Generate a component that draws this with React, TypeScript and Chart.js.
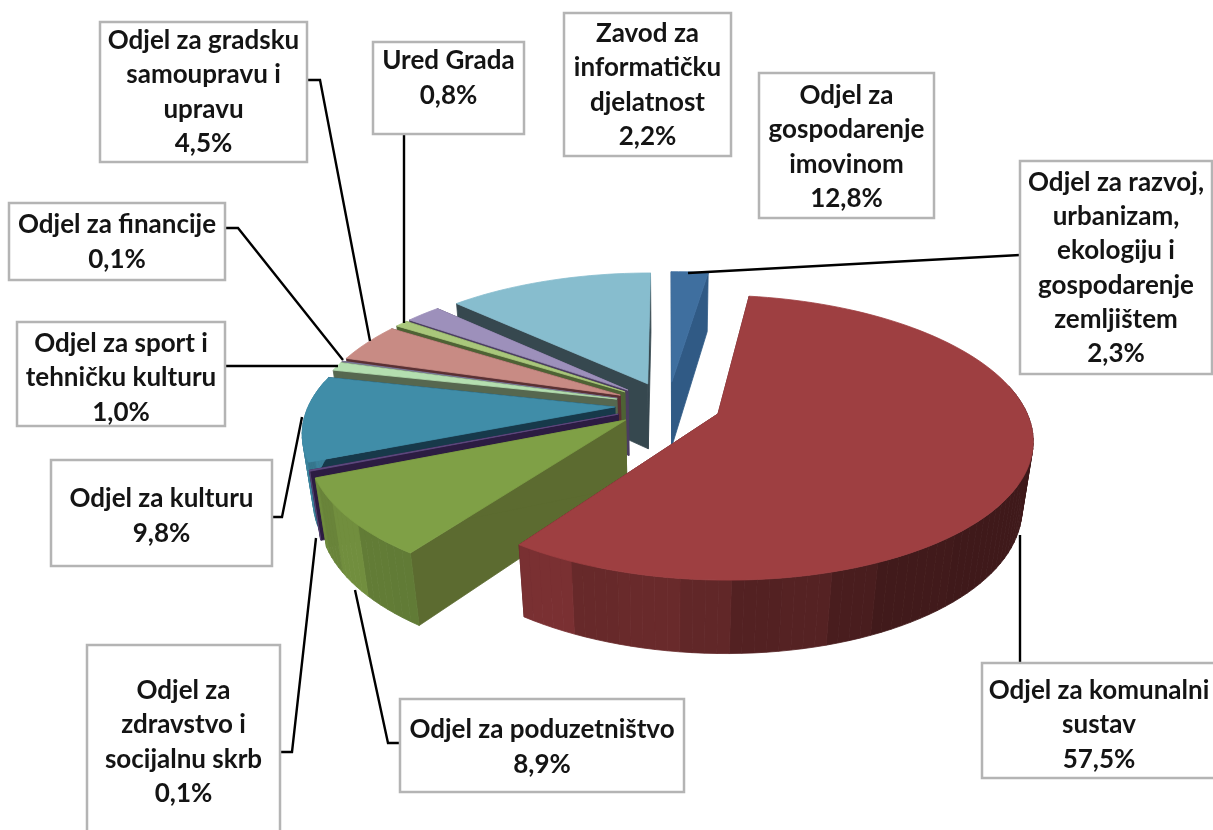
import React, { useEffect, useRef } from "react";
import { Chart, registerables } from "chart.js";

Chart.register(...registerables);

const categories = [
  "Odjel za razvoj, urbanizam, ekologiju i gospodarenje zemljištem",
  "Odjel za komunalni sustav",
  "Odjel za poduzetništvo",
  "Odjel za zdravstvo i socijalnu skrb",
  "Odjel za kulturu",
  "Odjel za sport i tehničku kulturu",
  "Odjel za financije",
  "Odjel za gradsku samoupravu i upravu",
  "Ured Grada",
  "Zavod za informatičku djelatnost",
  "Odjel za gospodarenje imovinom",
];
const values = [2.3, 57.5, 8.9, 0.1, 9.8, 1.0, 0.1, 4.5, 0.8, 2.2, 12.8];

const labelLines = [
  ["Odjel za razvoj,", "urbanizam,", "ekologiju i", "gospodarenje", "zemljištem"],
  ["Odjel za komunalni", "sustav"],
  ["Odjel za poduzetništvo"],
  ["Odjel za", "zdravstvo i", "socijalnu skrb"],
  ["Odjel za kulturu"],
  ["Odjel za sport i", "tehničku kulturu"],
  ["Odjel za financije"],
  ["Odjel za gradsku", "samoupravu i", "upravu"],
  ["Ured Grada"],
  ["Zavod za", "informatičku", "djelatnost"],
  ["Odjel za", "gospodarenje", "imovinom"],
];

const topColors = ["#3f6f9f", "#9e3f41", "#7fa046", "#5f4a80", "#408da8", "#b4deb0", "#7a7a9a", "#c88b84", "#a9c77b", "#9d90bb", "#87bdce"];
const cutColors = ["#305a85", "#5a2022", "#5c6b30", "#2c1c42", "#17394a", "#56674f", "#5a3033", "#5a3033", "#4e6234", "#4a3d60", "#36484f"];

// label box [left, top, right, bottom]
const boxes = [
  [1020, 161, 1212, 374],
  [982, 663, 1216, 778],
  [400, 699, 684, 792],
  [87, 645, 280, 838],
  [51, 460, 272, 566],
  [17, 322, 225, 426],
  [9, 203, 225, 280],
  [100, 22, 307, 162],
  [373, 42, 524, 134],
  [564, 13, 731, 156],
  [759, 73, 934, 218],
];
// vertical centre of each label's text block
const textMiddles = [268, 725, 747, 742, 516, 378, 242, 92, 78, 85, 147];
const leaders: (number[][] | null)[] = [
  [[1020, 255], [688, 273]],
  [[1020, 663], [1020, 535]],
  [[400, 743], [388, 743], [355, 590]],
  [[281, 752], [292, 752], [316, 538]],
  [[272, 517], [282, 517], [302, 417]],
  [[225, 366], [338, 366]],
  [[225, 228], [238, 228], [343, 360]],
  [[307, 80], [320, 80], [370, 341]],
  [[404, 134], [404, 323]],
  null,
  null,
];

// 3D projection of the pie plane
const CX = 668, CY = 405, RX = 306, RY = 135.6, DEPTH = 68, PERSP = 0.165, PERSP_Z = 0.03, EXPLODE = 0.174;

function proj(u: number, v: number, z: number): [number, number] {
  const w = 1 - PERSP * v + PERSP_Z * z;
  return [CX + (RX * u) / w, CY + (RY * v + DEPTH * z) / w];
}

function shade(hex: string, f: number) {
  const n = parseInt(hex.slice(1), 16);
  const c = (s: number) => Math.max(0, Math.min(255, Math.round(((n >> s) & 255) * f)));
  return `rgb(${c(16)},${c(8)},${c(0)})`;
}

function poly(ctx: CanvasRenderingContext2D, pts: [number, number][], color: string) {
  ctx.beginPath();
  pts.forEach((p, i) => (i ? ctx.lineTo(p[0], p[1]) : ctx.moveTo(p[0], p[1])));
  ctx.closePath();
  ctx.fillStyle = color;
  ctx.strokeStyle = color;
  ctx.lineWidth = 0.8;
  ctx.lineJoin = "round";
  ctx.fill();
  ctx.stroke();
}

const pie3d = {
  id: "pie3d",
  beforeDatasetDraw(chart: any) {
    const ctx: CanvasRenderingContext2D = chart.ctx;
    const arcs = chart.getDatasetMeta(0).data.map((el: any, i: number) => {
      const { startAngle, endAngle } = el.getProps(["startAngle", "endAngle"], true);
      const a0 = startAngle + Math.PI / 2;
      const a1 = endAngle + Math.PI / 2;
      const mid = (a0 + a1) / 2;
      const ex = Math.sin(mid) * EXPLODE;
      const ey = -Math.cos(mid) * EXPLODE;
      let key = Math.max(-Math.cos(a0), -Math.cos(a1));
      if (a0 < Math.PI && a1 > Math.PI) key = 1;
      return { i, a0, a1, ex, ey, key: key + ey };
    });
    arcs.sort((a: any, b: any) => a.key - b.key);
    ctx.save();
    for (const s of arcs) {
      const pt = (a: number, z: number) => proj(Math.sin(a) + s.ex, -Math.cos(a) + s.ey, z);
      const tip = (z: number) => proj(s.ex, s.ey, z);
      // radial cut faces
      poly(ctx, [tip(0), pt(s.a0, 0), pt(s.a0, 1), tip(1)], cutColors[s.i]);
      poly(ctx, [tip(0), pt(s.a1, 0), pt(s.a1, 1), tip(1)], cutColors[s.i]);
      // rim, in flat facets with slightly varying tone
      const step = Math.PI / 90;
      const n = Math.max(1, Math.ceil((s.a1 - s.a0) / step));
      const top: [number, number][] = [tip(0)];
      for (let k = 0; k < n; k++) {
        const a = s.a0 + ((s.a1 - s.a0) * k) / n;
        const b = s.a0 + ((s.a1 - s.a0) * (k + 1)) / n;
        top.push(pt(a, 0));
        const m = (a + b) / 2;
        const facet = Math.floor(m * 7);
        const fm = (facet + 0.5) / 7;
        const band = 1 + 0.06 * Math.sin(facet * 2.3);
        const f = Math.max(0.4, (0.58 - 0.32 * Math.sin(fm)) * band);
        if (-Math.cos(m) > -0.2) poly(ctx, [pt(a, 0), pt(b, 0), pt(b, 1), pt(a, 1)], shade(topColors[s.i], f));
      }
      top.push(pt(s.a1, 0));
      // top face
      poly(ctx, top, topColors[s.i]);
    }
    ctx.restore();
    return false;
  },
  afterDatasetsDraw(chart: any) {
    const ctx: CanvasRenderingContext2D = chart.ctx;
    ctx.save();
    ctx.strokeStyle = "#000000";
    ctx.lineWidth = 2.4;
    ctx.lineJoin = "miter";
    for (const l of leaders) {
      if (!l) continue;
      ctx.beginPath();
      l.forEach((p, i) => (i ? ctx.lineTo(p[0], p[1]) : ctx.moveTo(p[0], p[1])));
      ctx.stroke();
    }
    const LINE = 34.3;
    ctx.textAlign = "center";
    ctx.textBaseline = "middle";
    ctx.font = 'bold 26px "Lato", sans-serif';
    values.forEach((v, i) => {
      const [x0, y0, x1, y1] = boxes[i];
      ctx.fillStyle = "#ffffff";
      ctx.fillRect(x0, y0, x1 - x0, y1 - y0);
      ctx.strokeStyle = "#b4b4b4";
      ctx.lineWidth = 2.5;
      ctx.strokeRect(x0, y0, x1 - x0, y1 - y0);
      const lines = [...labelLines[i], v.toFixed(1).replace(".", ",") + "%"];
      const cx = (x0 + x1) / 2;
      const start = textMiddles[i] - ((lines.length - 1) * LINE) / 2;
      ctx.fillStyle = "#141414";
      lines.forEach((t, k) => ctx.fillText(t, cx, start + k * LINE));
    });
    ctx.restore();
  },
};

export default function App() {
  const ref = useRef<HTMLCanvasElement>(null);
  useEffect(() => {
    document.body.style.margin = "0";
    document.body.style.background = "#ffffff";
    const chart = new Chart(ref.current!, {
      type: "pie",
      data: {
        labels: categories,
        datasets: [{ data: values, backgroundColor: topColors }],
      },
      options: {
        responsive: false,
        animation: false,
        plugins: { legend: { display: false }, tooltip: { enabled: false } },
      },
      plugins: [pie3d],
    } as any);
    return () => chart.destroy();
  }, []);
  return <canvas ref={ref} width={1213} height={830} style={{ display: "block" }} />;
}
